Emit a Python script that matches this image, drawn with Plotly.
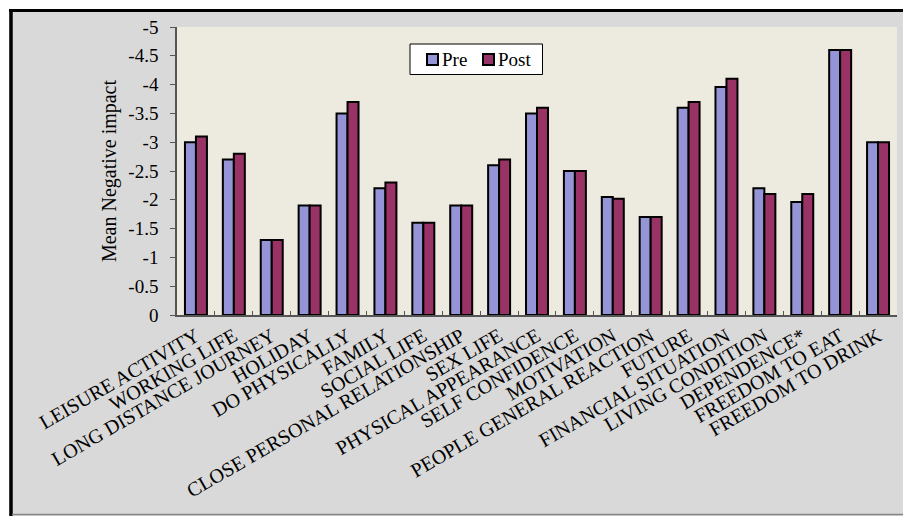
import plotly.graph_objects as go

categories = ["LEISURE ACTIVITY", "WORKING LIFE", "LONG DISTANCE JOURNEY", "HOLIDAY",
              "DO PHYSICALLY", "FAMILY", "SOCIAL LIFE", "CLOSE PERSONAL RELATIONSHIP",
              "SEX LIFE", "PHYSICAL APPEARANCE", "SELF CONFIDENCE", "MOTIVATION",
              "PEOPLE GENERAL REACTION", "FUTURE", "FINANCIAL SITUATION", "LIVING CONDITION",
              "DEPENDENCE*", "FREEDOM TO EAT", "FREEDOM TO DRINK"]
pre = [-3.0, -2.7, -1.3, -1.9, -3.5, -2.2, -1.6, -1.9, -2.6, -3.5, -2.5, -2.05,
       -1.7, -3.6, -3.96, -2.2, -1.96, -4.6, -3.0]
post = [-3.1, -2.8, -1.3, -1.9, -3.7, -2.3, -1.6, -1.9, -2.7, -3.6, -2.5, -2.02,
        -1.7, -3.7, -4.1, -2.1, -2.1, -4.6, -3.0]
series_names = ["Pre", "Post"]
series_colors = ["#9494D6", "#993366"]
y_ticks = [0, -0.5, -1, -1.5, -2, -2.5, -3, -3.5, -4, -4.5, -5]
y_ticktext = ["0", "-0.5", "-1", "-1.5", "-2", "-2.5", "-3", "-3.5", "-4", "-4.5", "-5"]

FONT = "Liberation Serif, Times New Roman, serif"

fig = go.Figure()
for name, vals, col in zip(series_names, [pre, post], series_colors):
    fig.add_trace(go.Bar(name=name, x=categories, y=vals,
                         marker=dict(color=col, line=dict(color="black", width=2))))

# plot area pixel geometry
L, R, T, B = 177, 897, 27, 315
W, H = 903, 516
pw, ph = R - L, B - T
def px(x):
    return (x - L) / pw
def py(y):
    return (B - y) / ph

shapes = [
    # white strips outside the frame
    dict(type="rect", xref="paper", yref="paper", x0=px(-5), x1=px(W + 5), y0=py(9), y1=py(-5),
         fillcolor="white", line=dict(width=0), layer="below"),
    dict(type="rect", xref="paper", yref="paper", x0=px(-5), x1=px(9), y0=py(H + 5), y1=py(-5),
         fillcolor="white", line=dict(width=0), layer="below"),
    # frame borders
    dict(type="line", xref="paper", yref="paper", x0=px(9), x1=px(W + 5), y0=py(10.5), y1=py(10.5),
         line=dict(color="black", width=3)),
    dict(type="line", xref="paper", yref="paper", x0=px(11), x1=px(11), y0=py(9), y1=py(H + 5),
         line=dict(color="black", width=3.5)),
    dict(type="line", xref="paper", yref="paper", x0=px(12), x1=px(W + 5), y0=py(514.5), y1=py(514.5),
         line=dict(color="#888888", width=1.5)),
    # legend box
    dict(type="rect", xref="paper", yref="paper", x0=px(410), x1=px(542.5), y0=py(74.5), y1=py(44),
         fillcolor="white", line=dict(color="black", width=1)),
]
annotations = []
leg_swatch_x = [427, 483]
for name, col, sx in zip(series_names, series_colors, leg_swatch_x):
    shapes.append(dict(type="rect", xref="paper", yref="paper", x0=px(sx), x1=px(sx + 11),
                       y0=py(65), y1=py(54), fillcolor=col, line=dict(color="black", width=2)))
    annotations.append(dict(xref="paper", yref="paper", x=px(sx + 13), y=py(59.5),
                            xanchor="left", yanchor="middle", showarrow=False, text=name,
                            font=dict(family=FONT, size=19, color="black")))

fig.update_layout(
    width=W, height=H,
    margin=dict(l=L, r=W - R, t=T, b=H - B),
    paper_bgcolor="#D9D9D9",
    plot_bgcolor="#EDEAE0",
    barmode="group",
    bargap=0.42,
    bargroupgap=0,
    font=dict(family=FONT, size=16, color="black"),
    shapes=shapes,
    annotations=annotations,
    showlegend=False,
    xaxis=dict(
        tickangle=-30,
        tickfont=dict(family=FONT, size=20, color="black"),
        showline=True, linecolor="#555555", linewidth=1.5,
        ticks="inside", ticklen=4, tickcolor="#555555", tickson="boundaries",
        showgrid=False, range=[-0.5, len(categories) - 0.5],
    ),
    yaxis=dict(
        autorange=False, range=[0, -5],
        tickvals=y_ticks, ticktext=y_ticktext,
        tickfont=dict(family=FONT, size=19, color="black"),
        showline=True, linecolor="#555555", linewidth=1.5,
        ticks="outside", ticklen=5, tickcolor="#555555",
        ticklabelstandoff=8,
        showgrid=False, zeroline=False,
        title=dict(text="Mean Negative impact", font=dict(family=FONT, size=20, color="black"), standoff=6),
    ),
)

fig.write_html("out.html")
